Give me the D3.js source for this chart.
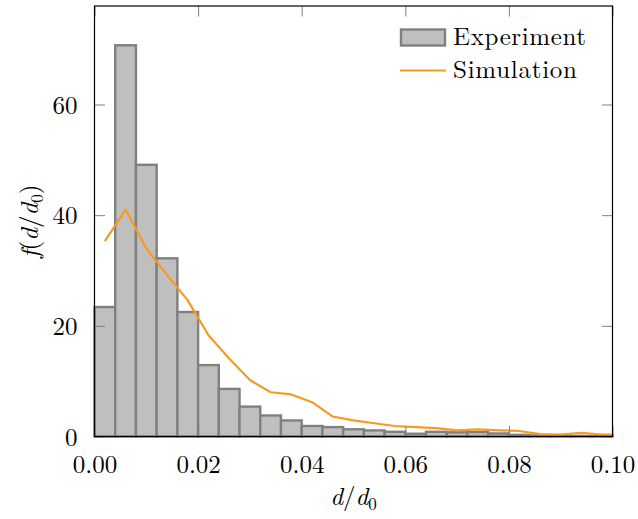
<!DOCTYPE html>
<html>
<head>
<meta charset="utf-8">
<script src="https://cdn.jsdelivr.net/npm/d3@7"></script>
<style>
  html, body { margin: 0; padding: 0; background: #fff; }
  svg { display: block; }
  text { font-family: "Latin Modern Roman", "CMU Serif", "Liberation Serif", serif; fill: #000; }
</style>
</head>
<body>
<svg id="chart" width="638" height="519"></svg>
<script>
// ---- data ----
const binWidth = 0.004;
const experiment = [23.4, 70.7, 49.1, 32.2, 22.5, 12.9, 8.6, 5.4, 3.8, 2.9,
                    1.9, 1.7, 1.3, 1.1, 0.85, 0.5, 0.85, 0.75, 0.8, 0.55,
                    0.3, 0.2, 0.15, 0.1, 0.1];
const simX = [0.002, 0.006, 0.010, 0.014, 0.018, 0.022, 0.026, 0.030, 0.034, 0.038,
              0.042, 0.046, 0.050, 0.054, 0.058, 0.062, 0.066, 0.070, 0.074, 0.078,
              0.082, 0.086, 0.090, 0.094, 0.098, 0.100];
const simY = [35.3, 41.0, 34.0, 29.2, 24.6, 18.3, 14.1, 10.2, 8.0, 7.6,
              6.2, 3.6, 2.9, 2.4, 1.9, 1.7, 1.5, 1.1, 1.27, 1.1,
              1.0, 0.42, 0.36, 0.67, 0.36, 0.36];
const xTicks = [0, 0.02, 0.04, 0.06, 0.08, 0.10];
const yTicks = [0, 20, 40, 60];
const legendLabels = ["Experiment", "Simulation"];

// ---- layout ----
const L = 94.5, R = 612.5, T = 6, B = 436.5;
const x = d3.scaleLinear().domain([0, 0.1]).range([L, R]);
const y = d3.scaleLinear().domain([0, 77.8]).range([B, T]);
const svg = d3.select("#chart");
const fontSize = 25;
const tickLen = 10.5;
const orange = "#f59a23";

svg.append("defs").append("clipPath").attr("id", "clip")
  .append("rect").attr("x", L).attr("y", T).attr("width", R - L).attr("height", B - T);

// bars
svg.append("g").selectAll("rect").data(experiment).join("rect")
  .attr("x", (d, i) => x(i * binWidth))
  .attr("width", (d, i) => x((i + 1) * binWidth) - x(i * binWidth))
  .attr("y", d => y(d))
  .attr("height", d => y(0) - y(d))
  .attr("fill", "#bfbfbf")
  .attr("stroke", "#808080")
  .attr("stroke-width", 2.4);

// line
const line = d3.line().x(d => x(d[0])).y(d => y(d[1]));
svg.append("path")
  .attr("clip-path", "url(#clip)")
  .datum(simX.map((v, i) => [v, simY[i]]))
  .attr("d", line)
  .attr("fill", "none")
  .attr("stroke", orange)
  .attr("stroke-width", 2.2)
  .attr("stroke-linejoin", "round");

// axes via d3 axis generators (inward ticks)
function styleAxis(g) {
  g.select(".domain").remove();
  g.selectAll(".tick line").attr("stroke", "#808080").attr("stroke-width", 1);
}
svg.append("g").attr("transform", `translate(0,${B})`)
  .call(d3.axisBottom(x).tickValues(xTicks).tickSizeInner(-tickLen).tickSizeOuter(0).tickPadding(24).tickFormat(d3.format(".2f")))
  .call(styleAxis)
  .call(g => g.selectAll(".tick text").attr("font-size", fontSize).attr("font-family", null).attr("dy", "0.5em"));
svg.append("g").attr("transform", `translate(0,${T})`)
  .call(d3.axisTop(x).tickValues(xTicks).tickSizeInner(-tickLen).tickSizeOuter(0).tickFormat(""))
  .call(styleAxis);
svg.append("g").attr("transform", `translate(${L},0)`)
  .call(d3.axisLeft(y).tickValues(yTicks).tickSizeInner(-tickLen).tickSizeOuter(0).tickPadding(17).tickFormat(d3.format("d")))
  .call(styleAxis)
  .call(g => g.selectAll(".tick text").attr("font-size", fontSize).attr("font-family", null).attr("dy", "0.35em"));
svg.append("g").attr("transform", `translate(${R},0)`)
  .call(d3.axisRight(y).tickValues(yTicks).tickSizeInner(-tickLen).tickSizeOuter(0).tickFormat(""))
  .call(styleAxis);

// frame
svg.append("rect").attr("x", L).attr("y", T).attr("width", R - L).attr("height", B - T)
  .attr("fill", "none").attr("stroke", "#000").attr("stroke-width", 1.2);

// axis labels
const xl = svg.append("text").attr("x", (L + R) / 2).attr("y", 505).attr("text-anchor", "middle").attr("font-size", fontSize);
xl.append("tspan").attr("font-style", "italic").text("d");
xl.append("tspan").text("/");
xl.append("tspan").attr("font-style", "italic").text("d");
xl.append("tspan").attr("font-size", 17).attr("dy", 5).text("0");

const yl = svg.append("text").attr("transform", `translate(38,${(T + B) / 2}) rotate(-90)`).attr("text-anchor", "middle").attr("font-size", fontSize);
yl.append("tspan").attr("font-style", "italic").text("f");
yl.append("tspan").text("(");
yl.append("tspan").attr("font-style", "italic").text("d");
yl.append("tspan").text("/");
yl.append("tspan").attr("font-style", "italic").text("d");
yl.append("tspan").attr("font-size", 17).attr("dy", 5).text("0");
yl.append("tspan").attr("dy", -5).text(")");

// legend
const lg = svg.append("g");
lg.append("rect").attr("x", 401).attr("y", 29.5).attr("width", 44).attr("height", 16)
  .attr("fill", "#bfbfbf").attr("stroke", "#808080").attr("stroke-width", 2.4);
lg.append("text").attr("x", 453).attr("y", 45).attr("font-size", fontSize)
  .attr("textLength", 133).attr("lengthAdjust", "spacing").text(legendLabels[0]);
lg.append("line").attr("x1", 400).attr("x2", 446).attr("y1", 70.5).attr("y2", 70.5)
  .attr("stroke", orange).attr("stroke-width", 2.2);
lg.append("text").attr("x", 453).attr("y", 78).attr("font-size", fontSize)
  .attr("textLength", 124).attr("lengthAdjust", "spacing").text(legendLabels[1]);
</script>
</body>
</html>
